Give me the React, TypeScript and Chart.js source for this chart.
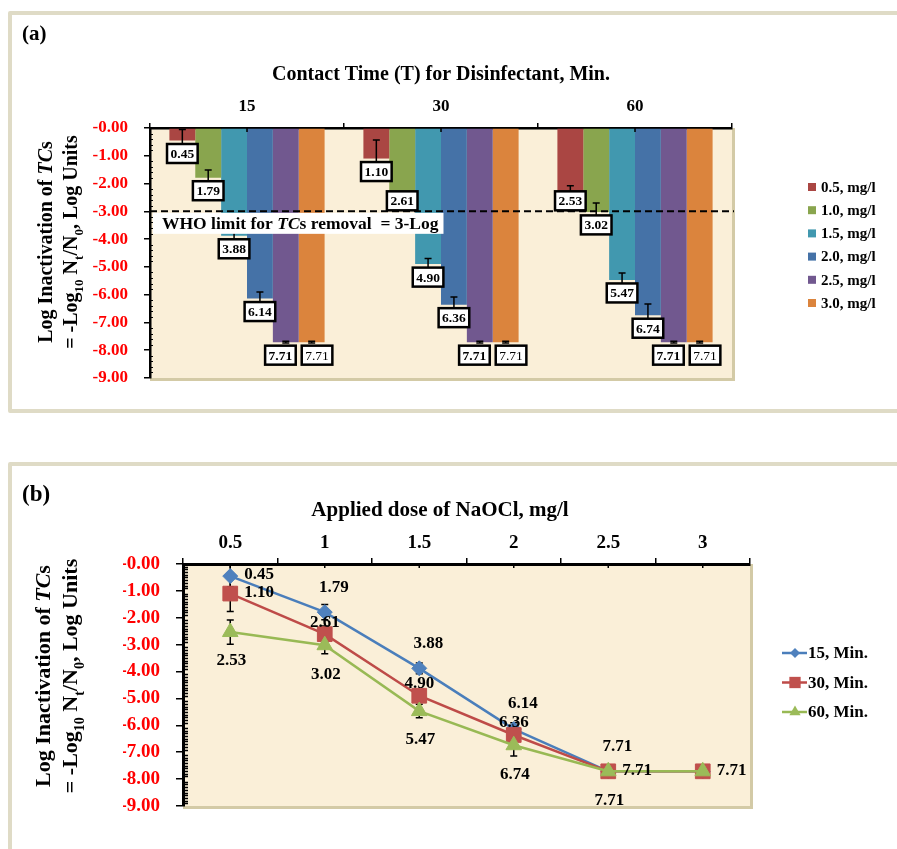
import React, { useEffect, useRef } from 'react';
import { Chart, registerables } from 'chart.js';

Chart.register(...registerables);

const SERIF = "'Liberation Serif', 'Times New Roman', serif";

// ---------------- data ----------------
const contactTimes = ['15', '30', '60'];
const doseTicks = ['0.5', '1', '1.5', '2', '2.5', '3'];
const doseNames = ['0.5, mg/l', '1.0, mg/l', '1.5, mg/l', '2.0, mg/l', '2.5, mg/l', '3.0, mg/l'];
const timeNames = ['15, Min.', '30, Min.', '60, Min.'];

// log inactivation (positive magnitudes) per dose, for each contact time
const logInact15 = [0.45, 1.79, 3.88, 6.14, 7.71, 7.71];
const logInact30 = [1.1, 2.61, 4.9, 6.36, 7.71, 7.71];
const logInact60 = [2.53, 3.02, 5.47, 6.74, 7.71, 7.71];

// error bar half-lengths
const sd15 = [0.4, 0.28, 0.2, 0.24, 0.03, 0.03];
const sd30 = [0.67, 0.3, 0.2, 0.28, 0.03, 0.03];
const sd60 = [0.45, 0.32, 0.25, 0.4, 0.03, 0.03];

const whoLimit = -3;
const yMin = -9;
const yMax = 0;

// ---------------- styles ----------------
const doseColors = ['#AA4643', '#89A54E', '#4198AF', '#4572A7', '#71588F', '#DB843D'];
const lineColors = ['#4A7EBB', '#BE4B48', '#98B954'];
const markerColors = ['#4F81BD', '#C0504D', '#9BBB59'];
const markerStyles = ['rectRot', 'rect', 'triangle'];
const markerRadii = [7.5, 10.4, 9];
const CREAM = '#FAEFD8';
const SHADOW = '#D3CAA6';
const PANEL_BORDER = '#DFDBC6';

const seriesByTime = [logInact15, logInact30, logInact60];
const sdByTime = [sd15, sd30, sd60];

const labelPlacement = [
  ['right', 'above', 'above', 'above', 'above', 'none'],
  ['right', 'upper', 'upper', 'upper', 'right', 'right'],
  ['below', 'below', 'below', 'below', 'below', 'none'],
];

const fmtTick = (v: number) => (v <= 0 ? '-' : '') + Math.abs(v).toFixed(2);

type Run = { t: string; it?: boolean; sub?: boolean };

function runFont(r: Run, size: number) {
  const s = r.sub ? Math.round(size * 0.65) : size;
  return `${r.it ? 'italic ' : ''}bold ${s}px ${SERIF}`;
}

function measureRuns(ctx: any, runs: Run[], size: number) {
  let total = 0;
  const widths = runs.map((r) => {
    ctx.font = runFont(r, size);
    const w = ctx.measureText(r.t).width;
    total += w;
    return w;
  });
  return { total, widths };
}

function drawRuns(ctx: any, runs: Run[], x: number, baseline: number, size: number) {
  const { widths } = measureRuns(ctx, runs, size);
  let cx = x;
  runs.forEach((r, i) => {
    ctx.font = runFont(r, size);
    ctx.fillText(r.t, cx, baseline + (r.sub ? size * 0.3 : 0));
    cx += widths[i];
  });
}

function drawRotatedRuns(ctx: any, runs: Run[], cx: number, cy: number, size: number) {
  const { total } = measureRuns(ctx, runs, size);
  ctx.save();
  ctx.translate(cx, cy);
  ctx.rotate(-Math.PI / 2);
  ctx.fillStyle = '#000';
  ctx.textAlign = 'left';
  ctx.textBaseline = 'alphabetic';
  drawRuns(ctx, runs, -total / 2, size * 0.33, size);
  ctx.restore();
}

const yTitle1: Run[] = [{ t: 'Log Inactivation of ' }, { t: 'TC', it: true }, { t: 's' }];
const yTitle2: Run[] = [
  { t: '= -Log' },
  { t: '10', sub: true },
  { t: ' N' },
  { t: 't', sub: true },
  { t: '/N' },
  { t: '0', sub: true },
  { t: ', Log Units' },
];

function drawPlotBackground(chart: any) {
  const { ctx, chartArea: a } = chart;
  ctx.save();
  ctx.fillStyle = CREAM;
  ctx.fillRect(a.left, a.top, a.right - a.left, a.bottom - a.top);
  ctx.strokeStyle = SHADOW;
  ctx.lineWidth = 3;
  ctx.beginPath();
  ctx.moveTo(a.right + 1.5, a.top);
  ctx.lineTo(a.right + 1.5, a.bottom + 3);
  ctx.moveTo(a.left, a.bottom + 1.5);
  ctx.lineTo(a.right + 3, a.bottom + 1.5);
  ctx.stroke();
  ctx.restore();
}

function drawAxisDecor(chart: any, minorStep: number, minorLen: number, minorWidth: number) {
  const { ctx, chartArea: a, scales } = chart;
  const y = scales.y;
  const x = scales.x;
  ctx.save();
  ctx.strokeStyle = '#000';
  ctx.lineWidth = minorWidth;
  ctx.beginPath();
  const n = Math.round((yMax - yMin) / minorStep);
  for (let k = 1; k < n; k++) {
    const v = yMax - k * minorStep;
    if (Math.abs(v - Math.round(v)) < 1e-6) continue;
    const py = Math.round(y.getPixelForValue(v)) + 0.5;
    ctx.moveTo(a.left, py);
    ctx.lineTo(a.left + minorLen, py);
  }
  ctx.stroke();
  ctx.lineWidth = 1.5;
  ctx.beginPath();
  x.getLabels().forEach((_: any, i: number) => {
    const px = x.getPixelForValue(i);
    ctx.moveTo(px, a.top);
    ctx.lineTo(px, a.top + 4);
  });
  ctx.stroke();
  ctx.restore();
}

// ---------------- panel (a) ----------------
const panelAPlugin = {
  id: 'panelA',
  beforeDraw(chart: any) {
    drawPlotBackground(chart);
  },
  afterDatasetsDraw(chart: any) {
    const { ctx, chartArea: a } = chart;
    const y = chart.scales.y;
    ctx.save();
    // error bars
    ctx.strokeStyle = '#000';
    ctx.lineWidth = 1.5;
    chart.data.datasets.forEach((ds: any, di: number) => {
      chart.getDatasetMeta(di).data.forEach((el: any, j: number) => {
        const v = ds.data[j];
        const e = ds.sd[j];
        const y1 = y.getPixelForValue(Math.min(v + e, yMax));
        const y2 = y.getPixelForValue(v - e);
        ctx.beginPath();
        ctx.moveTo(el.x, y1);
        ctx.lineTo(el.x, y2);
        ctx.moveTo(el.x - 3.5, y1);
        ctx.lineTo(el.x + 3.5, y1);
        ctx.moveTo(el.x - 3.5, y2);
        ctx.lineTo(el.x + 3.5, y2);
        ctx.stroke();
      });
    });
    // WHO limit
    const ly = y.getPixelForValue(whoLimit);
    ctx.setLineDash([7, 4]);
    ctx.lineWidth = 2;
    ctx.beginPath();
    ctx.moveTo(a.left, ly);
    ctx.lineTo(a.right + 2, ly);
    ctx.stroke();
    ctx.setLineDash([]);
    const whoRuns: Run[] = [{ t: 'WHO limit for ' }, { t: 'TC', it: true }, { t: 's removal  = 3-Log' }];
    const whoSize = 17.5;
    const { total } = measureRuns(ctx, whoRuns, whoSize);
    const tx = a.left + 12;
    ctx.fillStyle = '#fff';
    ctx.fillRect(a.left + 3, ly + 1.5, tx - (a.left + 3) + total + 5, 21);
    ctx.fillStyle = '#000';
    ctx.textAlign = 'left';
    ctx.textBaseline = 'alphabetic';
    drawRuns(ctx, whoRuns, tx, ly + 18, whoSize);

    // value boxes: compute, resolve overlaps, draw
    const h = 19;
    const boxes: any[] = [];
    chart.data.datasets.forEach((ds: any, di: number) => {
      chart.getDatasetMeta(di).data.forEach((el: any, j: number) => {
        const txt = Math.abs(ds.data[j]).toFixed(2);
        const font = `${di === 5 ? '' : 'bold '}13.5px ${SERIF}`;
        ctx.font = font;
        const w = ctx.measureText(txt).width + 7;
        let cy = el.y + 13;
        if (cy - h / 2 < ly && cy + h / 2 > ly) cy = ly - 1 - h / 2;
        boxes.push({ cat: j, di, cx: el.x, cy, w, txt, font });
      });
    });
    contactTimes.forEach((_, j) => {
      const group = boxes.filter((b) => b.cat === j).sort((p, q) => p.di - q.di);
      for (let k = 1; k < group.length; k++) {
        const p = group[k - 1];
        const q = group[k];
        if (Math.abs(p.cy - q.cy) >= h) continue;
        const overlap = p.cx + p.w / 2 + 6 - (q.cx - q.w / 2);
        if (overlap > 0) {
          p.cx -= overlap / 2;
          q.cx += overlap / 2;
        }
      }
    });
    ctx.textAlign = 'center';
    ctx.textBaseline = 'middle';
    boxes.forEach((b) => {
      ctx.fillStyle = '#fff';
      ctx.fillRect(b.cx - b.w / 2, b.cy - h / 2, b.w, h);
      ctx.strokeStyle = '#000';
      ctx.lineWidth = 2.5;
      ctx.strokeRect(b.cx - b.w / 2, b.cy - h / 2, b.w, h);
      ctx.fillStyle = '#000';
      ctx.font = b.font;
      ctx.fillText(b.txt, b.cx, b.cy + 1);
    });
    ctx.restore();
  },
  afterDraw(chart: any) {
    const { ctx, chartArea: a } = chart;
    drawAxisDecor(chart, 0.2, 3, 1);
    ctx.save();
    ctx.fillStyle = '#000';
    ctx.textAlign = 'center';
    ctx.textBaseline = 'middle';
    ctx.font = `bold 20px ${SERIF}`;
    ctx.fillText('Contact Time (T) for Disinfectant, Min.', (a.left + a.right) / 2, a.top - 53);
    ctx.textAlign = 'left';
    ctx.textBaseline = 'alphabetic';
    ctx.font = `bold 21px ${SERIF}`;
    ctx.fillText('(a)', 22, 40);
    // legend
    ctx.font = `bold 15px ${SERIF}`;
    ctx.textBaseline = 'middle';
    chart.data.datasets.forEach((ds: any, i: number) => {
      const ry = a.top + 59 + i * 23.2;
      ctx.fillStyle = ds.backgroundColor;
      ctx.fillRect(a.right + 76, ry - 4, 8, 8);
      ctx.fillStyle = '#000';
      ctx.fillText(ds.label, a.right + 89, ry + 1);
    });
    ctx.restore();
    drawRotatedRuns(ctx, yTitle1, 45, 242, 20);
    drawRotatedRuns(ctx, yTitle2, 70, 242, 20);
  },
};

function configA(): any {
  return {
    type: 'bar',
    data: {
      labels: contactTimes,
      datasets: doseNames.map((name, i) => ({
        label: name,
        data: seriesByTime.map((s) => -s[i]),
        sd: sdByTime.map((s) => s[i]),
        backgroundColor: doseColors[i],
        borderWidth: 0,
        categoryPercentage: 0.8,
        barPercentage: 1,
      })),
    },
    options: {
      responsive: false,
      animation: false,
      devicePixelRatio: 1,
      layout: { padding: { left: 90, top: 88, right: 165, bottom: 62 } },
      plugins: { legend: { display: false }, tooltip: { enabled: false } },
      scales: {
        x: {
          type: 'category',
          position: 'top',
          offset: true,
          grid: { display: true, drawOnChartArea: false, drawTicks: true, tickLength: 5, color: '#000', lineWidth: 1.5, offset: true },
          border: { display: true, color: '#000', width: 2.5 },
          ticks: { color: '#000', font: { family: SERIF, size: 17, weight: 'bold' }, padding: 6, maxRotation: 0 },
          afterFit: (s: any) => { s.height = 40; },
        },
        y: {
          min: yMin,
          max: yMax,
          grid: { display: true, drawOnChartArea: false, drawTicks: true, tickLength: 6, color: '#000', lineWidth: 1.5 },
          border: { display: true, color: '#000', width: 2.5 },
          ticks: { stepSize: 1, color: '#FF0000', font: { family: SERIF, size: 17, weight: 'bold' }, padding: 16, callback: (v: number) => fmtTick(v) },
          afterFit: (s: any) => { s.width = 60; },
        },
      },
    },
    plugins: [panelAPlugin],
  };
}

// ---------------- panel (b) ----------------
const placeOffsets: any = {
  above: { dx: 9, dy: -25, align: 'center' },
  upper: { dx: 0, dy: -12, align: 'center' },
  below: { dx: 1, dy: 29, align: 'center' },
  right: { dx: 14, dy: -1, align: 'left' },
};

function drawMarker(ctx: any, style: string, x: number, y: number, r: number) {
  ctx.beginPath();
  if (style === 'rectRot') {
    ctx.moveTo(x, y - r); ctx.lineTo(x + r, y); ctx.lineTo(x, y + r); ctx.lineTo(x - r, y);
  } else if (style === 'rect') {
    const s = r * Math.SQRT1_2;
    ctx.rect(x - s, y - s, 2 * s, 2 * s);
  } else {
    ctx.moveTo(x, y - r);
    ctx.lineTo(x + r * 0.866, y + r * 0.5);
    ctx.lineTo(x - r * 0.866, y + r * 0.5);
  }
  ctx.closePath();
  ctx.fill();
}

const panelBPlugin = {
  id: 'panelB',
  beforeDraw(chart: any) {
    drawPlotBackground(chart);
  },
  beforeDatasetsDraw(chart: any) {
    const { ctx } = chart;
    const y = chart.scales.y;
    ctx.save();
    ctx.strokeStyle = '#000';
    ctx.lineWidth = 1.5;
    chart.data.datasets.forEach((ds: any, di: number) => {
      chart.getDatasetMeta(di).data.forEach((el: any, j: number) => {
        const v = ds.data[j];
        const e = ds.sd[j];
        const y1 = y.getPixelForValue(Math.min(v + e, yMax));
        const y2 = y.getPixelForValue(v - e);
        ctx.beginPath();
        ctx.moveTo(el.x, y1); ctx.lineTo(el.x, y2);
        ctx.moveTo(el.x - 3.5, y1); ctx.lineTo(el.x + 3.5, y1);
        ctx.moveTo(el.x - 3.5, y2); ctx.lineTo(el.x + 3.5, y2);
        ctx.stroke();
      });
    });
    ctx.restore();
  },
  afterDatasetsDraw(chart: any) {
    const { ctx } = chart;
    ctx.save();
    ctx.fillStyle = '#000';
    ctx.textBaseline = 'middle';
    ctx.font = `bold 17px ${SERIF}`;
    chart.data.datasets.forEach((ds: any, di: number) => {
      chart.getDatasetMeta(di).data.forEach((el: any, j: number) => {
        const p = ds.placement[j];
        if (p === 'none') return;
        const o = placeOffsets[p];
        ctx.textAlign = o.align;
        ctx.fillText(Math.abs(ds.data[j]).toFixed(2), el.x + o.dx, el.y + o.dy);
      });
    });
    ctx.restore();
  },
  afterDraw(chart: any) {
    const { ctx, chartArea: a } = chart;
    drawAxisDecor(chart, 0.1, 5, 1.3);
    ctx.save();
    ctx.fillStyle = '#000';
    ctx.textAlign = 'center';
    ctx.textBaseline = 'middle';
    ctx.font = `bold 21px ${SERIF}`;
    ctx.fillText('Applied dose of NaOCl, mg/l', a.left + 257, a.top - 53);
    ctx.textAlign = 'left';
    ctx.textBaseline = 'alphabetic';
    ctx.font = `bold 23px ${SERIF}`;
    ctx.fillText('(b)', 22, 61);
    // legend
    ctx.font = `bold 17px ${SERIF}`;
    ctx.textBaseline = 'middle';
    chart.data.datasets.forEach((ds: any, i: number) => {
      const ry = a.top + 89 + i * 29.5;
      ctx.strokeStyle = ds.borderColor;
      ctx.lineWidth = 2.5;
      ctx.beginPath();
      ctx.moveTo(a.right + 32, ry);
      ctx.lineTo(a.right + 57, ry);
      ctx.stroke();
      ctx.fillStyle = ds.pointBackgroundColor;
      drawMarker(ctx, ds.pointStyle, a.right + 45, ry, [5, 8, 6.5][i]);
      ctx.fillStyle = '#000';
      ctx.fillText(ds.label, a.right + 58, ry + 1);
    });
    ctx.restore();
    drawRotatedRuns(ctx, yTitle1, 43, 236, 22);
    drawRotatedRuns(ctx, yTitle2, 70, 236, 22);
  },
};

function configB(): any {
  return {
    type: 'line',
    data: {
      labels: doseTicks,
      datasets: timeNames.map((name, i) => ({
        label: name,
        data: seriesByTime[i].map((v) => -v),
        sd: sdByTime[i],
        placement: labelPlacement[i],
        borderColor: lineColors[i],
        backgroundColor: markerColors[i],
        pointBackgroundColor: markerColors[i],
        pointBorderColor: markerColors[i],
        pointStyle: markerStyles[i],
        pointRadius: markerRadii[i],
        pointBorderWidth: 1,
        borderWidth: 2.5,
        tension: 0,
        order: 3 - i,
        clip: false,
      })),
    },
    options: {
      responsive: false,
      animation: false,
      devicePixelRatio: 1,
      layout: { padding: { left: 123, top: 84, right: 147, bottom: 43 } },
      plugins: { legend: { display: false }, tooltip: { enabled: false } },
      scales: {
        x: {
          type: 'category',
          position: 'top',
          offset: true,
          grid: { display: true, drawOnChartArea: false, drawTicks: true, tickLength: 6, color: '#000', lineWidth: 1.5, offset: true },
          border: { display: true, color: '#000', width: 3 },
          ticks: { color: '#000', font: { family: SERIF, size: 19, weight: 'bold' }, padding: 4, maxRotation: 0 },
          afterFit: (s: any) => { s.height = 40; },
        },
        y: {
          min: yMin,
          max: yMax,
          grid: { display: true, drawOnChartArea: false, drawTicks: true, tickLength: 7, color: '#000', lineWidth: 1.5 },
          border: { display: true, color: '#000', width: 3 },
          ticks: { stepSize: 1, color: '#FF0000', font: { family: SERIF, size: 19, weight: 'bold' }, padding: 16, callback: (v: number) => fmtTick(v) },
          afterFit: (s: any) => { s.width = 60; },
        },
      },
    },
    plugins: [panelBPlugin],
  };
}

function ChartCanvas({ make, top, height }: { make: () => any; top: number; height: number }) {
  const ref = useRef<HTMLCanvasElement | null>(null);
  useEffect(() => {
    if (!ref.current) return;
    const chart = new Chart(ref.current, make());
    return () => chart.destroy();
  }, []);
  return (
    <canvas
      ref={ref}
      width={897}
      height={height}
      style={{ position: 'absolute', left: 0, top, width: 897, height, display: 'block' }}
    />
  );
}

export default function App() {
  return (
    <div style={{ position: 'absolute', left: 0, top: 0, width: 897, height: 849, overflow: 'hidden', background: '#fff' }}>
      <div style={{ position: 'absolute', left: 8, top: 11, width: 1000, height: 402, boxSizing: 'border-box', border: `4px solid ${PANEL_BORDER}`, borderRadius: 2 }} />
      <div style={{ position: 'absolute', left: 8, top: 462, width: 1000, height: 500, boxSizing: 'border-box', border: `4px solid ${PANEL_BORDER}`, borderRadius: 2 }} />
      <ChartCanvas make={configA} top={0} height={440} />
      <ChartCanvas make={configB} top={440} height={409} />
    </div>
  );
}
